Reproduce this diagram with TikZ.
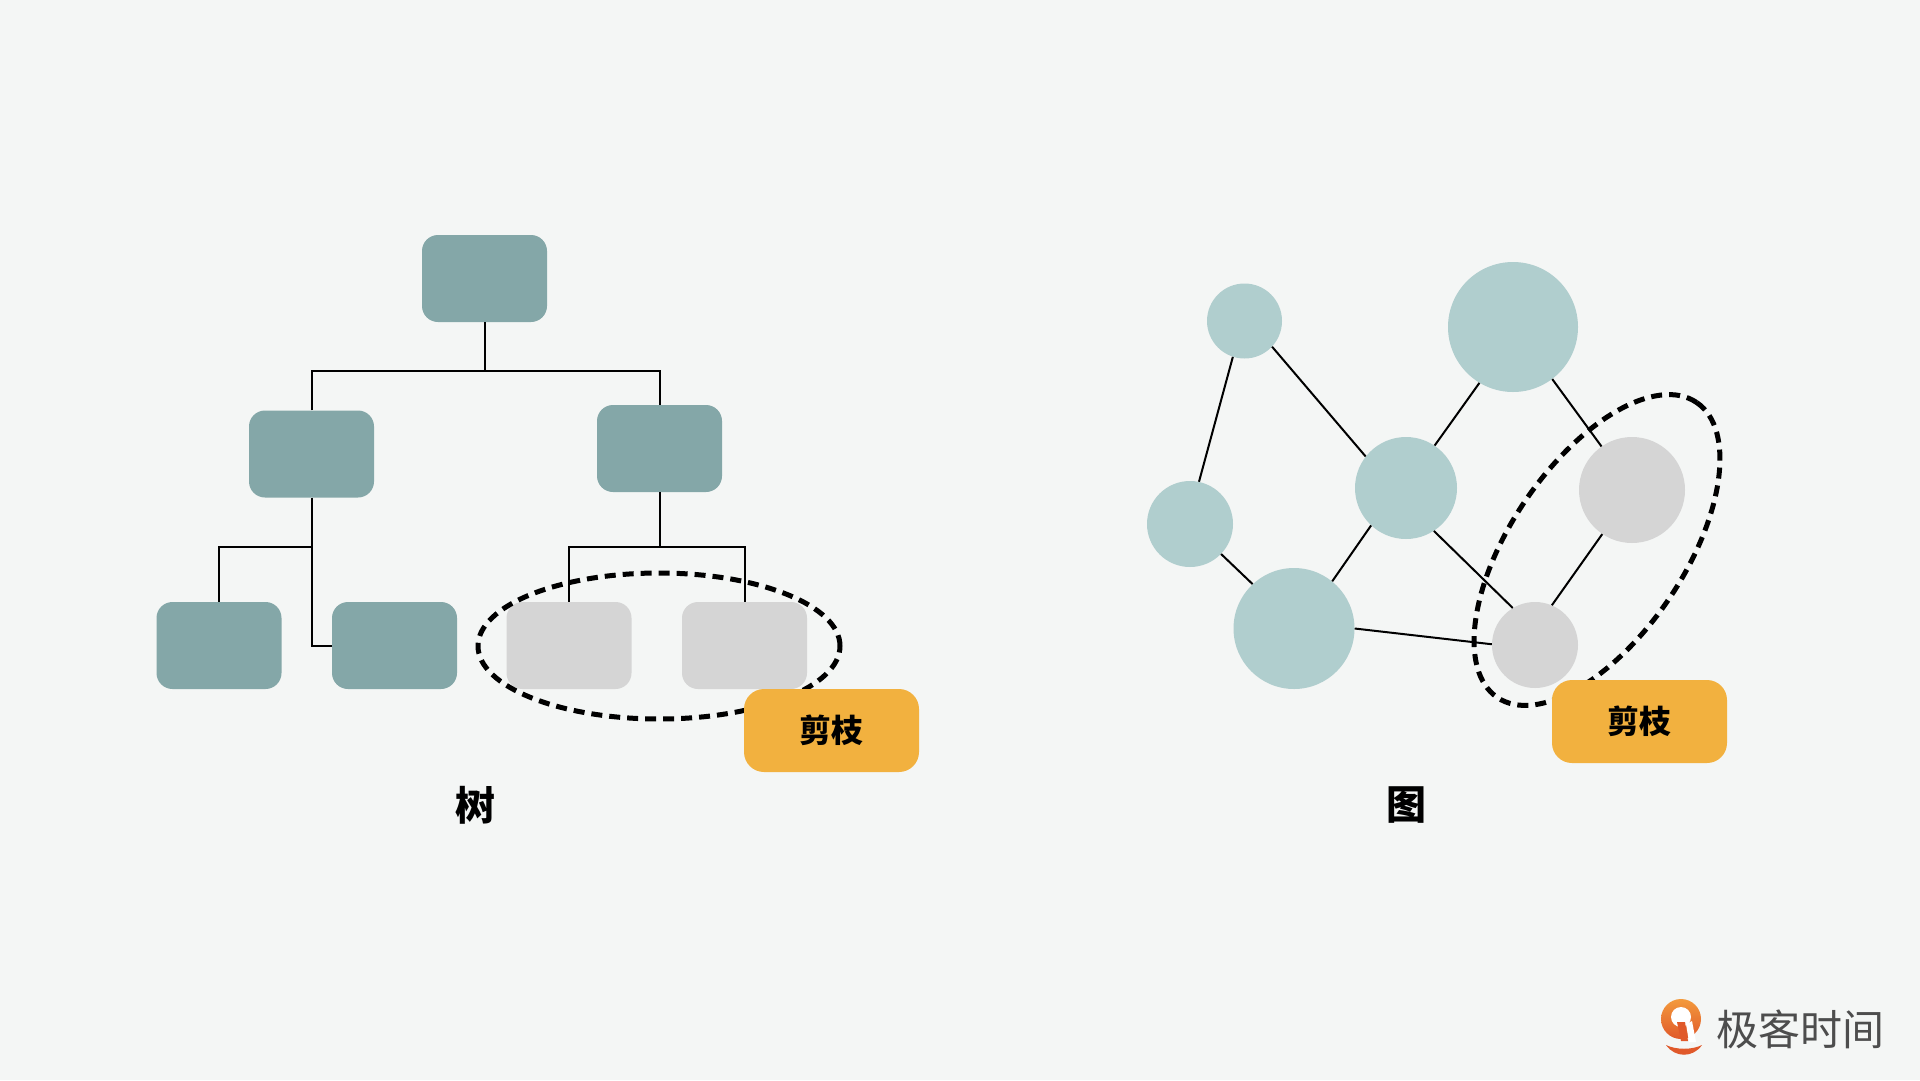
\documentclass[tikz,border=0pt]{standalone}
\usepackage{fontspec}
\newfontfamily\cjk{Noto Sans CJK SC}
\usetikzlibrary{shapes.geometric}
\definecolor{bg}{HTML}{F4F6F5}
\definecolor{teal}{HTML}{84A7A8}
\definecolor{lteal}{HTML}{B0CECE}
\definecolor{gry}{HTML}{D5D5D5}
\definecolor{orng}{HTML}{F2B13F}
\definecolor{logotext}{HTML}{4D4D4D}
\definecolor{logoA}{HTML}{F39A3C}
\definecolor{logoB}{HTML}{E0592A}
\tikzset{
  tbox/.style={rectangle, rounded corners=16pt, fill=teal, minimum width=125pt, minimum height=87pt, inner sep=0pt},
  gbox/.style={tbox, fill=gry},
  gcirc/.style={circle, fill=lteal, inner sep=0pt},
  pcirc/.style={circle, fill=gry, inner sep=0pt},
  edge/.style={line width=2pt, black},
  prune/.style={line width=5pt, black, dash pattern=on 11pt off 7pt},
  tag/.style={rectangle, rounded corners=20pt, fill=orng, minimum width=175pt, minimum height=83pt, inner sep=0pt, font=\cjk\bfseries\fontsize{32pt}{36pt}\selectfont},
  caption/.style={font=\cjk\bfseries\fontsize{40pt}{44pt}\selectfont}
}
\begin{document}
\begin{tikzpicture}[x=1pt,y=-1pt]
\fill[bg] (0,0) rectangle (1920,1080);
\useasboundingbox (0,0) rectangle (1920,1080);
% ---------------- tree ----------------
\node[tbox] (root) at (484.5,278.5) {};
\node[tbox] (l) at (311.5,454) {};
\node[tbox] (r) at (659.5,448.5) {};
\node[tbox] (ll) at (219,645.5) {};
\node[tbox] (lr) at (394.5,645.5) {};
\node[gbox] (g1) at (569,645.5) {};
\node[gbox] (g2) at (744.5,645.5) {};
\coordinate (b1) at (484.5,371);
\coordinate (b2) at (311.5,547);
\coordinate (b3) at (659.5,547);
\draw[edge] (root.south) -- (b1);
\draw[edge] (l.north) |- (b1) -| (r.north);
\draw[edge] (l.south) -- (l.south |- lr.west) -- (lr.west);
\draw[edge] (ll.north) |- (b2);
\draw[edge] (r.south) -- (b3);
\draw[edge] (g1.north) |- (b3) -| (g2.north);
\node[ellipse, draw, prune, minimum width=362pt, minimum height=146pt, inner sep=0pt] (tcut) at (659,646) {};
\node[tag] (ttag) at (831.5,730.5) {剪枝};
\node[caption] (tcap) at (475,805) {树};
% ---------------- graph ----------------
\node[gcirc, minimum size=75pt] (A) at (1244.5,321) {};
\node[gcirc, minimum size=130pt] (B) at (1513,327) {};
\node[gcirc, minimum size=102pt] (C) at (1406,488) {};
\node[gcirc, minimum size=86pt] (D) at (1190,524) {};
\node[gcirc, minimum size=121pt] (E) at (1294,628.5) {};
\node[pcirc, minimum size=106pt] (F) at (1632,490) {};
\node[pcirc, minimum size=86pt] (G) at (1535,645) {};
\draw[edge] (A.-108) -- (D.78);
\draw[edge] (A.-43.5) -- (C.142.5);
\draw[edge] (C.56) -- (B.-121.4);
\draw[edge] (B.-53.2) -- (F.125.9);
\draw[edge] (C.-133.5) -- (E.51);
\draw[edge] (D.-44) -- (E.133.7);
\draw[edge] (C.-57.5) -- (G.121.9);
\draw[edge] (E.-0.8) -- (G.179);
\draw[edge] (F.-124) -- (G.67.8);
\node[ellipse, draw, prune, rotate=56, minimum width=356pt, minimum height=174pt, inner sep=0pt] (gcut) at (1597,550) {};
\node[tag] (gtag) at (1639.5,721.5) {剪枝};
\node[caption] (gcap) at (1406,805) {图};
% ---------------- logo ----------------
\shade[top color=logoA, bottom color=logoB] (1681,1019) circle [radius=20];
\fill[white] (1681,1017) circle [radius=10];
\fill[white] (1686,1024) -- (1692,1021) -- (1696,1042) -- (1689,1042) -- cycle;
\fill[logoB] (1677,1022) -- (1685,1022) -- (1688,1041) -- (1681,1041) -- cycle;
\fill[logoB] (1666,1045) .. controls (1675,1058) and (1693,1058) .. (1702,1045) .. controls (1692,1050) and (1676,1050) .. cycle;
\node[font=\cjk\fontsize{42pt}{46pt}\selectfont, text=logotext, inner sep=0pt] (logo) at (1800,1029) {极客时间};
\end{tikzpicture}
\end{document}
